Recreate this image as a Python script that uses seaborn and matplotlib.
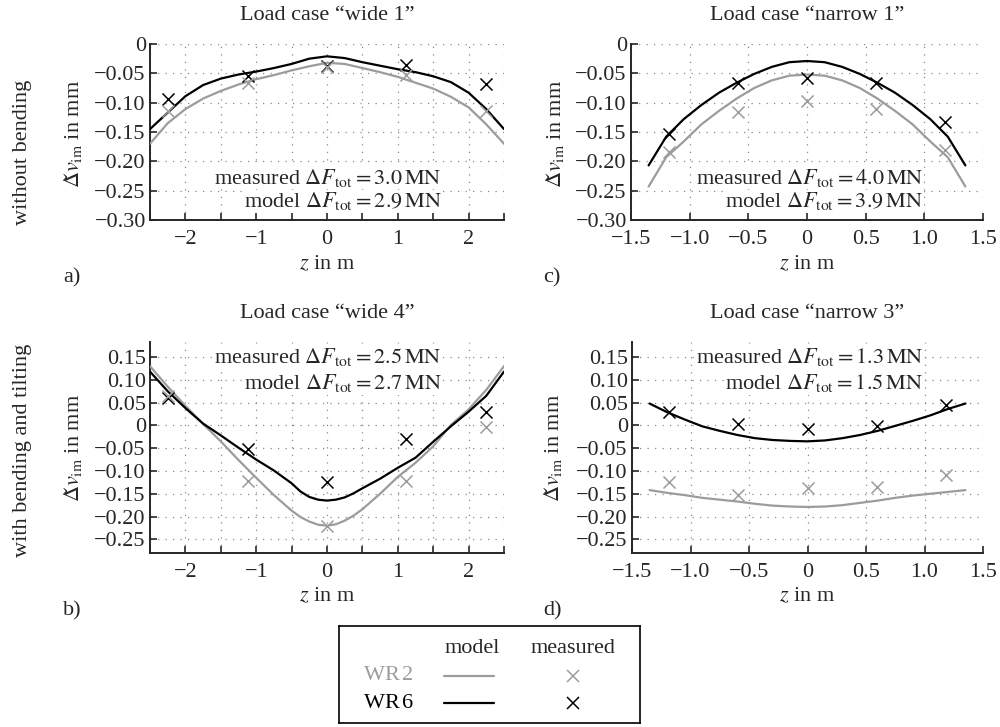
import numpy as np
import pandas as pd
import matplotlib
matplotlib.use("Agg")
import matplotlib.pyplot as plt
import seaborn as sns

# ==== data ====
z_wide = [-2.5, -2.25, -2.0, -1.75, -1.5, -1.25, -1.0, -0.75, -0.5, -0.25, 0.0,
          0.25, 0.5, 0.75, 1.0, 1.25, 1.5, 1.75, 2.0, 2.25, 2.5]
z_wide_b = [-2.5, -2.25, -2.0, -1.75, -1.5, -1.25, -1.0, -0.75, -0.5, -0.375, -0.25, -0.125, 0.0,
            0.125, 0.25, 0.375, 0.5, 0.75, 1.0, 1.25, 1.5, 1.75, 2.0, 2.25, 2.5]
z_narrow = [-1.35, -1.2, -1.05, -0.9, -0.75, -0.6, -0.45, -0.3, -0.15, 0.0,
            0.15, 0.3, 0.45, 0.6, 0.75, 0.9, 1.05, 1.2, 1.35]
z_meas_wide = [-2.25, -1.12, 0.0, 1.12, 2.25]
z_meas_narrow = [-1.18, -0.59, 0.0, 0.59, 1.18]

# a) wide 1
a_model_wr2 = [-0.170, -0.135, -0.111, -0.093, -0.080, -0.069, -0.060, -0.053, -0.045, -0.038, -0.032,
               -0.034, -0.041, -0.048, -0.056, -0.066, -0.076, -0.090, -0.108, -0.137, -0.170]
a_model_wr6 = [-0.145, -0.117, -0.089, -0.070, -0.059, -0.052, -0.047, -0.041, -0.034, -0.025, -0.021,
               -0.024, -0.031, -0.037, -0.043, -0.048, -0.055, -0.065, -0.083, -0.111, -0.145]
a_meas_wr2 = [-0.114, -0.067, -0.040, -0.053, -0.114]
a_meas_wr6 = [-0.093, -0.054, -0.038, -0.035, -0.069]

# b) wide 4
b_model_wr2 = [0.130, 0.085, 0.043, 0.003, -0.035, -0.076, -0.115, -0.153, -0.187, -0.201, -0.211, -0.218, -0.220,
               -0.217, -0.209, -0.198, -0.184, -0.150, -0.113, -0.082, -0.046, 0.001, 0.035, 0.078, 0.130]
b_model_wr6 = [0.118, 0.075, 0.038, 0.004, -0.022, -0.049, -0.075, -0.099, -0.127, -0.145, -0.157, -0.163, -0.165,
               -0.163, -0.158, -0.149, -0.138, -0.117, -0.093, -0.071, -0.036, -0.002, 0.030, 0.065, 0.118]
b_meas_wr2 = [0.065, -0.122, -0.220, -0.122, -0.003]
b_meas_wr6 = [0.060, -0.052, -0.124, -0.029, 0.030]

# c) narrow 1
c_model_wr2 = [-0.243, -0.193, -0.166, -0.137, -0.114, -0.093, -0.075, -0.062, -0.054, -0.052,
               -0.054, -0.062, -0.075, -0.093, -0.114, -0.137, -0.166, -0.193, -0.243]
c_model_wr6 = [-0.207, -0.158, -0.128, -0.104, -0.083, -0.066, -0.051, -0.039, -0.031, -0.029,
               -0.031, -0.039, -0.051, -0.066, -0.083, -0.104, -0.128, -0.158, -0.207]
c_meas_wr2 = [-0.184, -0.116, -0.098, -0.111, -0.181]
c_meas_wr6 = [-0.153, -0.067, -0.058, -0.067, -0.133]

# d) narrow 3
d_model_wr2 = [-0.142, -0.148, -0.153, -0.159, -0.163, -0.167, -0.172, -0.176, -0.178, -0.179,
               -0.178, -0.175, -0.170, -0.165, -0.159, -0.154, -0.150, -0.146, -0.142]
d_model_wr6 = [0.048, 0.029, 0.013, -0.002, -0.012, -0.021, -0.028, -0.032, -0.034, -0.035,
               -0.033, -0.028, -0.021, -0.012, -0.001, 0.010, 0.022, 0.036, 0.048]
d_meas_wr2 = [-0.124, -0.153, -0.137, -0.135, -0.109]
d_meas_wr6 = [0.030, 0.004, -0.008, -0.001, 0.044]

titles = ["Load case “wide 1”", "Load case “wide 4”", "Load case “narrow 1”", "Load case “narrow 3”"]
f_meas = ["3.0", "2.5", "4.0", "1.3"]
f_model = ["2.9", "2.7", "3.9", "1.5"]

# ==== style ====
sns.set_style("ticks")
plt.rcParams["font.family"] = ["Liberation Serif", "DejaVu Serif"]
plt.rcParams["mathtext.fontset"] = "stix"
FS = 16
GRAY = "#9c9c9c"
LW = 1.6


def fmt_tick(v, nd):
    if abs(v) < 1e-9:
        return "0"
    s = f"{abs(v):.{nd}f}"
    return ("\u2212" + s) if v < 0 else s


def draw_panel(ax, z_model, m2, m6, z_meas, s2, s6):
    sns.lineplot(x=z_model, y=m2, color=GRAY, lw=LW, ax=ax, sort=False, estimator=None, zorder=3)
    sns.lineplot(x=z_model, y=m6, color="black", lw=LW, ax=ax, sort=False, estimator=None, zorder=3)
    sns.scatterplot(x=z_meas, y=s6, marker="x", color="black", s=75, linewidth=1.1, ax=ax, zorder=4)
    sns.scatterplot(x=z_meas, y=s2, marker="x", color=GRAY, s=75, linewidth=1.1, ax=ax, zorder=4)


fig = plt.figure(figsize=(10, 7.27), dpi=100)
W, H = 1000, 727


def add_ax(l, r, t, b):
    return fig.add_axes([l / W, 1 - b / H, (r - l) / W, (b - t) / H])


ax_a = add_ax(150, 504, 44, 220)
ax_c = add_ax(631, 983, 44, 220)
ax_b = add_ax(150, 504, 342, 553)
ax_d = add_ax(632, 983, 342, 553)

panels = [
    (ax_a, z_wide, a_model_wr2, a_model_wr6, z_meas_wide, a_meas_wr2, a_meas_wr6, "wide", "top"),
    (ax_b, z_wide_b, b_model_wr2, b_model_wr6, z_meas_wide, b_meas_wr2, b_meas_wr6, "wide", "bottom"),
    (ax_c, z_narrow, c_model_wr2, c_model_wr6, z_meas_narrow, c_meas_wr2, c_meas_wr6, "narrow", "top"),
    (ax_d, z_narrow, d_model_wr2, d_model_wr6, z_meas_narrow, d_meas_wr2, d_meas_wr6, "narrow", "bottom"),
]

for i, (ax, zm, m2, m6, zs, s2, s6, kind, row) in enumerate(panels):
    draw_panel(ax, zm, m2, m6, zs, s2, s6)
    if kind == "wide":
        ax.set_xlim(-2.5, 2.5)
        xt = np.arange(-2.5, 2.51, 0.5)
        ax.set_xticks(xt)
        ax.set_xticklabels([fmt_tick(v, 0) if abs(v - round(v)) < 1e-9 else "" for v in xt])
        txt_x = 1.62
    else:
        ax.set_xlim(-1.5, 1.5)
        xt = np.arange(-1.5, 1.51, 0.5)
        ax.set_xticks(xt)
        ax.set_xticklabels([fmt_tick(v, 1) for v in xt])
        txt_x = 0.99
    if row == "top":
        ax.set_ylim(-0.30, 0.0)
        yt = np.arange(-0.30, 0.001, 0.05)
        ty1, ty2 = -0.228, -0.268
    else:
        ax.set_ylim(-0.28, 0.183)
        yt = np.arange(-0.25, 0.151, 0.05)
        ty1, ty2 = 0.149, 0.092
    ax.set_yticks(yt)
    ax.set_yticklabels([fmt_tick(v, 2) for v in yt])
    ax.set_xlabel("")
    ax.set_ylabel("")
    ax.grid(True, color="#8a8a8a", linestyle=(0, (1, 5)), linewidth=0.9)
    ax.tick_params(direction="in", length=5, width=1.2, labelsize=FS)
    ax.tick_params(axis="x", pad=7)
    ax.tick_params(axis="y", pad=3)
    for side in ["top", "right"]:
        ax.spines[side].set_visible(False)
    for side in ["left", "bottom"]:
        ax.spines[side].set_linewidth(1.4)
    bb = dict(facecolor="white", edgecolor="none", pad=0.5)
    ax.text(txt_x, ty1, rf"measured $\Delta F_{{\mathrm{{tot}}}} = {f_meas[i]}\,\mathrm{{MN}}$",
            ha="right", va="center", fontsize=FS, bbox=bb, zorder=2)
    ax.text(txt_x, ty2, rf"model $\Delta F_{{\mathrm{{tot}}}} = {f_model[i]}\,\mathrm{{MN}}$",
            ha="right", va="center", fontsize=FS, bbox=bb, zorder=2)

# titles, axis labels, panel labels
ylab = r"$\Delta\check{v}_{\mathrm{im}}$ in mm"
xlab = r"$z$ in m"
for (cx, ty, xy, yx, ycy, lab, lx, ly, title) in [
    (327, 16, 265, 73, 134, "a)", 72, 278, titles[0]),
    (327, 313, 597, 73, 448, "b)", 72, 611, titles[1]),
    (807, 16, 265, 555, 134, "c)", 552, 278, titles[2]),
    (807, 313, 597, 553, 448, "d)", 552, 611, titles[3]),
]:
    fig.text(cx / W, 1 - ty / H, title, ha="center", va="center", fontsize=FS)
    fig.text(cx / W, 1 - xy / H, xlab, ha="center", va="center", fontsize=FS)
    fig.text(yx / W, 1 - ycy / H, ylab, ha="center", va="center", rotation=90, fontsize=FS)
    fig.text(lx / W, 1 - ly / H, lab, ha="center", va="center", fontsize=FS)

fig.text(23 / W, 1 - 152 / H, "without bending", ha="center", va="center", rotation=90, fontsize=FS)
fig.text(23 / W, 1 - 450 / H, "with bending and tilting", ha="center", va="center", rotation=90, fontsize=FS)

# legend box
lg = add_ax(339, 640, 626, 723)
lg.set_xlim(0, 1)
lg.set_ylim(0, 1)
lg.set_xticks([])
lg.set_yticks([])
for sp in lg.spines.values():
    sp.set_linewidth(1.2)
    sp.set_color("black")
lg.text(0.442, 0.77, "model", ha="center", va="center", fontsize=FS)
lg.text(0.777, 0.77, "measured", ha="center", va="center", fontsize=FS)
for yy, col, name in [(0.485, GRAY, r"WR$\,$2"), (0.205, "black", r"WR$\,$6")]:
    lg.text(0.163, yy, name, ha="center", va="center", fontsize=FS, color=col)
    lg.plot([0.349, 0.515], [yy, yy], color=col, lw=LW)
    lg.plot([0.777], [yy], marker="x", color=col, ms=8.5, mew=1.1, linestyle="none")

fig.savefig("out.png", dpi=100)
